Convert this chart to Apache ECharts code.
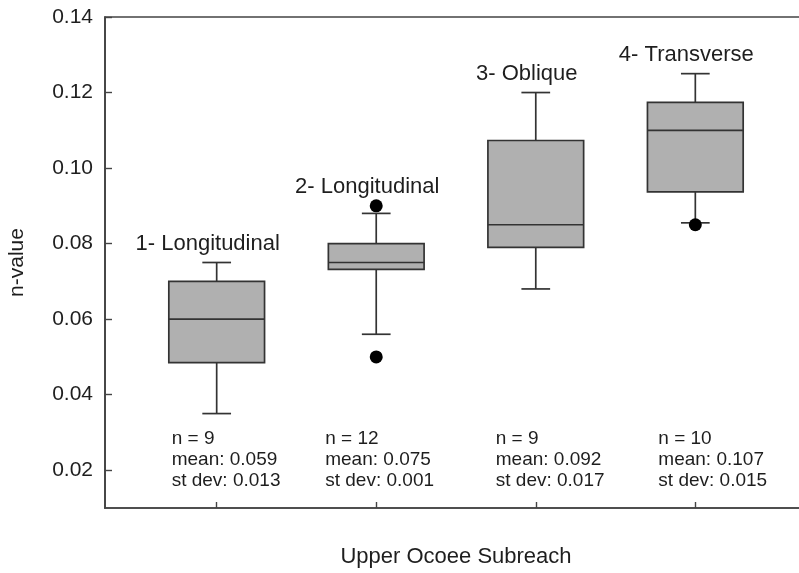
<!DOCTYPE html>
<html>
<head>
<meta charset="utf-8">
<script src="https://cdn.jsdelivr.net/npm/echarts@6/dist/echarts.min.js"></script>
<style>html,body{margin:0;padding:0;background:#fff}#c{width:799px;height:573px}</style>
</head>
<body>
<div id="c"></div>
<script>
// ---- data ----
var categories = ['1- Longitudinal', '2- Longitudinal', '3- Oblique', '4- Transverse'];
var catX = [1, 2, 3, 4];
var lowWhisker = [0.035, 0.056, 0.068, 0.0855];
var q1 = [0.0485, 0.0732, 0.079, 0.0937];
var median = [0.060, 0.075, 0.085, 0.110];
var q3 = [0.070, 0.080, 0.1073, 0.1174];
var highWhisker = [0.075, 0.088, 0.120, 0.125];
var outliers = [[2, 0.090], [2, 0.050], [4, 0.085]];
var nCounts = [9, 12, 9, 10];
var means = ['0.059', '0.075', '0.092', '0.107'];
var stdevs = ['0.013', '0.001', '0.017', '0.015'];
var yTicks = [0.02, 0.04, 0.06, 0.08, 0.10, 0.12, 0.14];

// ---- layout (not data) ----
var statsOffsetX = [-45, -51, -40, -37];
var statsTopValue = 0.0310;
var FONT = 'Liberation Sans, Arial, sans-serif';
var INK = '#1e1e1e';

var boxData = catX.map(function (x, i) {
  return [x, lowWhisker[i], q1[i], median[i], q3[i], highWhisker[i], i];
});

function topOf(i) {
  var t = highWhisker[i];
  outliers.forEach(function (o) { if (o[0] === catX[i] && o[1] > t) t = o[1]; });
  return t;
}

function renderBox(params, api) {
  var x = api.value(0), i = api.value(6);
  var unit = api.size([1, 0])[0];
  var bw = unit * 0.6, cw = unit * 0.18;
  var pLow = api.coord([x, api.value(1)]);
  var pQ1 = api.coord([x, api.value(2)]);
  var pMed = api.coord([x, api.value(3)]);
  var pQ3 = api.coord([x, api.value(4)]);
  var pHigh = api.coord([x, api.value(5)]);
  var cx = pLow[0];
  var ls = { stroke: '#333', lineWidth: 1.7 };
  var top = api.coord([x, topOf(i)]);
  var statP = api.coord([x, statsTopValue]);
  return {
    type: 'group',
    children: [
      { type: 'line', shape: { x1: cx, y1: pQ1[1], x2: cx, y2: pLow[1] }, style: ls },
      { type: 'line', shape: { x1: cx, y1: pQ3[1], x2: cx, y2: pHigh[1] }, style: ls },
      { type: 'line', shape: { x1: cx - cw / 2, y1: pLow[1], x2: cx + cw / 2, y2: pLow[1] }, style: ls },
      { type: 'line', shape: { x1: cx - cw / 2, y1: pHigh[1], x2: cx + cw / 2, y2: pHigh[1] }, style: ls },
      { type: 'rect', shape: { x: cx - bw / 2, y: pQ3[1], width: bw, height: pQ1[1] - pQ3[1] },
        style: { fill: '#b0b0b0', stroke: '#333', lineWidth: 1.7 } },
      { type: 'line', shape: { x1: cx - bw / 2, y1: pMed[1], x2: cx + bw / 2, y2: pMed[1] }, style: ls },
      { type: 'text', style: { text: categories[i], x: cx - 9, y: top[1] - 19, align: 'center', verticalAlign: 'middle',
        fill: INK, fontSize: 22, fontFamily: FONT } },
      { type: 'text', style: { text: 'n = ' + nCounts[i] + '\nmean: ' + means[i] + '\nst dev: ' + stdevs[i],
        x: cx + statsOffsetX[i], y: statP[1], align: 'left', verticalAlign: 'top', lineHeight: 21,
        fill: INK, fontSize: 19, fontFamily: FONT } }
    ]
  };
}

var chart = echarts.init(document.getElementById('c'));
chart.setOption({
  animation: false,
  backgroundColor: '#fff',
  grid: { left: 105, top: 17, width: 702, height: 491, show: true, borderColor: '#444', borderWidth: 1.7,
          containLabel: false, outerBoundsMode: 'none' },
  xAxis: {
    type: 'value', min: 0.3, max: 4.7,
    name: 'Upper Ocoee Subreach', nameLocation: 'middle', nameGap: 38,
    nameTextStyle: { fontSize: 22, fontFamily: FONT, color: INK },
    axisLine: { show: true, lineStyle: { color: '#444', width: 1.7 } },
    axisTick: { show: true, inside: true, length: 6, customValues: catX, lineStyle: { color: '#444', width: 1.4 } },
    axisLabel: { show: false },
    splitLine: { show: false }
  },
  yAxis: {
    type: 'value', min: 0.01, max: 0.14,
    name: 'n-value', nameLocation: 'middle', nameGap: 77, nameRotate: 90,
    nameTextStyle: { fontSize: 21, fontFamily: FONT, color: INK },
    axisLine: { show: true, lineStyle: { color: '#444', width: 1.7 } },
    axisTick: { show: true, inside: true, length: 7, customValues: yTicks, lineStyle: { color: '#444', width: 1.4 } },
    axisLabel: { show: true, customValues: yTicks, margin: 12, fontSize: 21, fontFamily: FONT, color: INK,
      formatter: function (v) { return v.toFixed(2); } },
    splitLine: { show: false }
  },
  series: [
    { type: 'custom', renderItem: renderBox, data: boxData, clip: false,
      encode: { x: 0, y: [1, 2, 3, 4, 5] }, z: 2 },
    { type: 'scatter', data: outliers, symbol: 'circle', symbolSize: 13,
      itemStyle: { color: '#000', opacity: 1 }, z: 3 }
  ]
});
</script>
</body>
</html>
